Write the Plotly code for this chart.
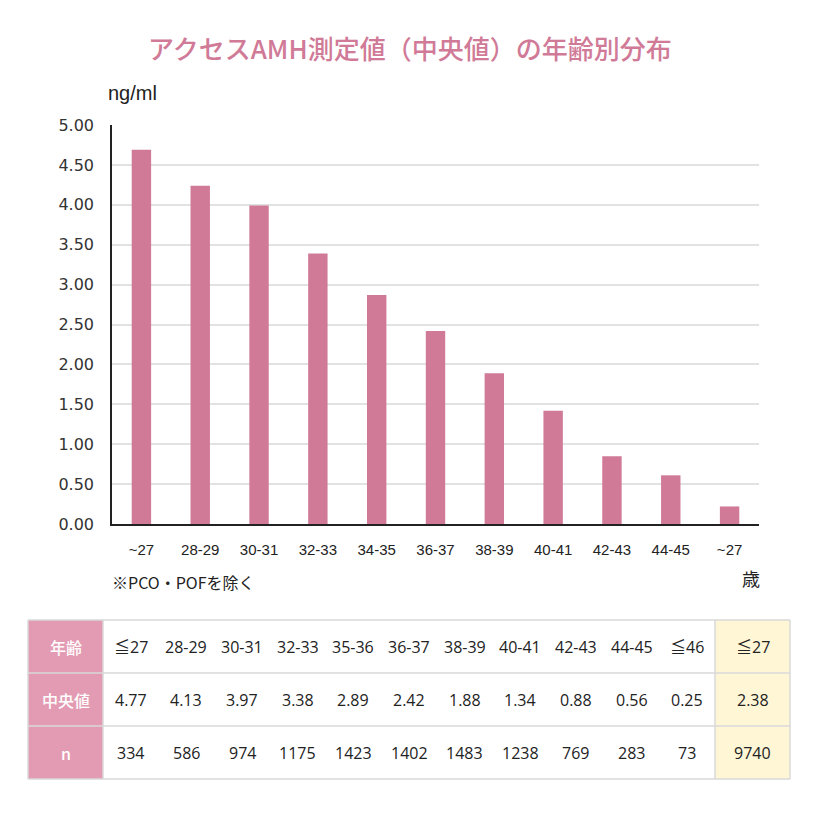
import plotly.graph_objects as go

# ---------------- data ----------------
age_labels = ["~27", "28-29", "30-31", "32-33", "34-35", "36-37", "38-39", "40-41", "42-43", "44-45", "~27"]
amh_values = [4.69, 4.24, 3.99, 3.39, 2.87, 2.42, 1.89, 1.42, 0.85, 0.61, 0.22]
y_ticks = [0, 0.5, 1, 1.5, 2, 2.5, 3, 3.5, 4, 4.5, 5]

table_row_heads = ["年齢", "中央値", "n"]
table_ages = ["≦27", "28-29", "30-31", "32-33", "35-36", "36-37", "38-39", "40-41", "42-43", "44-45", "≦46"]
table_medians = ["4.77", "4.13", "3.97", "3.38", "2.89", "2.42", "1.88", "1.34", "0.88", "0.56", "0.25"]
table_n = ["334", "586", "974", "1175", "1423", "1402", "1483", "1238", "769", "283", "73"]
total_col = ["≦27", "2.38", "9740"]

title_text = "アクセスAMH測定値（中央値）の年齢別分布"
unit_text = "ng/ml"
age_unit_text = "歳"
note_text = "※PCO・POFを除く"

# ---------------- styles ----------------
W, H = 820, 816
BAR_COLOR = "#d07a97"
TITLE_COLOR = "#d07a97"
HEAD_FILL = "#e39bb3"
TOTAL_FILL = "#fff6d6"
LINE_GRAY = "#d9d9d9"
TXT = "#222222"
NUM_FONT = "Open Sans, Noto Sans CJK JP"


def px(x):
    return x / W


def py(y):
    return 1 - y / H


fig = go.Figure()
fig.add_trace(go.Bar(
    x=list(range(len(age_labels))), y=amh_values,
    marker=dict(color=BAR_COLOR, line=dict(width=0)),
    width=0.33, hoverinfo="skip",
))

fig.update_layout(
    width=W, height=H, margin=dict(l=0, r=0, t=0, b=0, pad=0, autoexpand=False),
    autosize=False,
    paper_bgcolor="white", plot_bgcolor="white", showlegend=False,
    xaxis=dict(
        domain=[px(112), px(759)], range=[-0.5, len(age_labels) - 0.5],
        tickmode="array", tickvals=list(range(len(age_labels))), ticktext=age_labels,
        showgrid=False, zeroline=False, showline=True, linecolor="#222", linewidth=1.5,
        ticks="", ticklabelstandoff=11, automargin=False,
        tickfont=dict(family="Liberation Sans, Noto Sans CJK JP", size=15, color=TXT),
        fixedrange=True,
    ),
    yaxis=dict(
        domain=[py(524), py(125)], range=[0, 5],
        tickmode="array", tickvals=y_ticks, tickformat=".2f",
        showgrid=True, gridcolor="#e2e2e2", gridwidth=1.5,
        zeroline=False, showline=True, linecolor="#222", linewidth=1.5,
        ticks="", ticklabelstandoff=13, automargin=False,
        tickfont=dict(family="DejaVu Sans", size=16, color="#333"),
        fixedrange=True,
    ),
    bargap=0.67,
)

ann = []
ann.append(dict(x=0.5, y=py(47), xref="paper", yref="paper", text=title_text, showarrow=False,
                font=dict(family="Noto Sans CJK JP", size=26, color=TITLE_COLOR, weight=500),
                xanchor="center", yanchor="middle"))
ann.append(dict(x=px(106), y=py(93), xref="paper", yref="paper", text=unit_text, showarrow=False,
                font=dict(family="Liberation Sans", size=20, color=TXT), xanchor="left", yanchor="middle"))
ann.append(dict(x=px(751), y=py(578), xref="paper", yref="paper", text=age_unit_text, showarrow=False,
                font=dict(family="Noto Sans CJK JP", size=18, color=TXT), xanchor="center", yanchor="middle"))
ann.append(dict(x=px(110), y=py(582), xref="paper", yref="paper", text=note_text, showarrow=False,
                font=dict(family="Noto Sans CJK JP", size=16, color=TXT), xanchor="left", yanchor="middle"))

# ---------------- table ----------------
T_LEFT, T_RIGHT = 28, 790
HEAD_W, TOTAL_W = 75, 75
ROW_TOPS = [620, 673, 726, 779]
n_data = len(table_ages)
data_w = (T_RIGHT - T_LEFT - HEAD_W - TOTAL_W) / n_data
data_left = T_LEFT + HEAD_W
total_left = T_RIGHT - TOTAL_W

shapes = []
shapes.append(dict(type="rect", xref="paper", yref="paper", x0=px(T_LEFT), x1=px(data_left),
                   y0=py(ROW_TOPS[0]), y1=py(ROW_TOPS[-1]), fillcolor=HEAD_FILL, line=dict(width=0), layer="below"))
shapes.append(dict(type="rect", xref="paper", yref="paper", x0=px(total_left), x1=px(T_RIGHT),
                   y0=py(ROW_TOPS[0]), y1=py(ROW_TOPS[-1]), fillcolor=TOTAL_FILL, line=dict(width=0), layer="below"))
for yy in ROW_TOPS:
    shapes.append(dict(type="line", xref="paper", yref="paper", x0=px(T_LEFT), x1=px(T_RIGHT),
                       y0=py(yy), y1=py(yy), line=dict(color=LINE_GRAY, width=1.5)))
for xx in [T_LEFT, data_left, total_left, T_RIGHT]:
    shapes.append(dict(type="line", xref="paper", yref="paper", x0=px(xx), x1=px(xx),
                       y0=py(ROW_TOPS[0]), y1=py(ROW_TOPS[-1]), line=dict(color=LINE_GRAY, width=1.5)))

rows = [table_ages, table_medians, table_n]
for r in range(3):
    yc = (ROW_TOPS[r] + ROW_TOPS[r + 1]) / 2
    ann.append(dict(x=px(T_LEFT + HEAD_W / 2), y=py(yc), xref="paper", yref="paper",
                    text=table_row_heads[r], showarrow=False,
                    font=dict(family="Noto Sans CJK JP", size=16, color="white", weight=500),
                    xanchor="center", yanchor="middle"))
    for c, val in enumerate(rows[r]):
        ann.append(dict(x=px(data_left + data_w * (c + 0.5)), y=py(yc), xref="paper", yref="paper",
                        text=val, showarrow=False,
                        font=dict(family=NUM_FONT, size=16, color=TXT),
                        xanchor="center", yanchor="middle"))
    ann.append(dict(x=px(total_left + TOTAL_W / 2), y=py(yc), xref="paper", yref="paper",
                    text=total_col[r], showarrow=False,
                    font=dict(family=NUM_FONT, size=16, color=TXT),
                    xanchor="center", yanchor="middle"))

fig.update_layout(annotations=ann, shapes=shapes)
fig.write_html("out.html")
